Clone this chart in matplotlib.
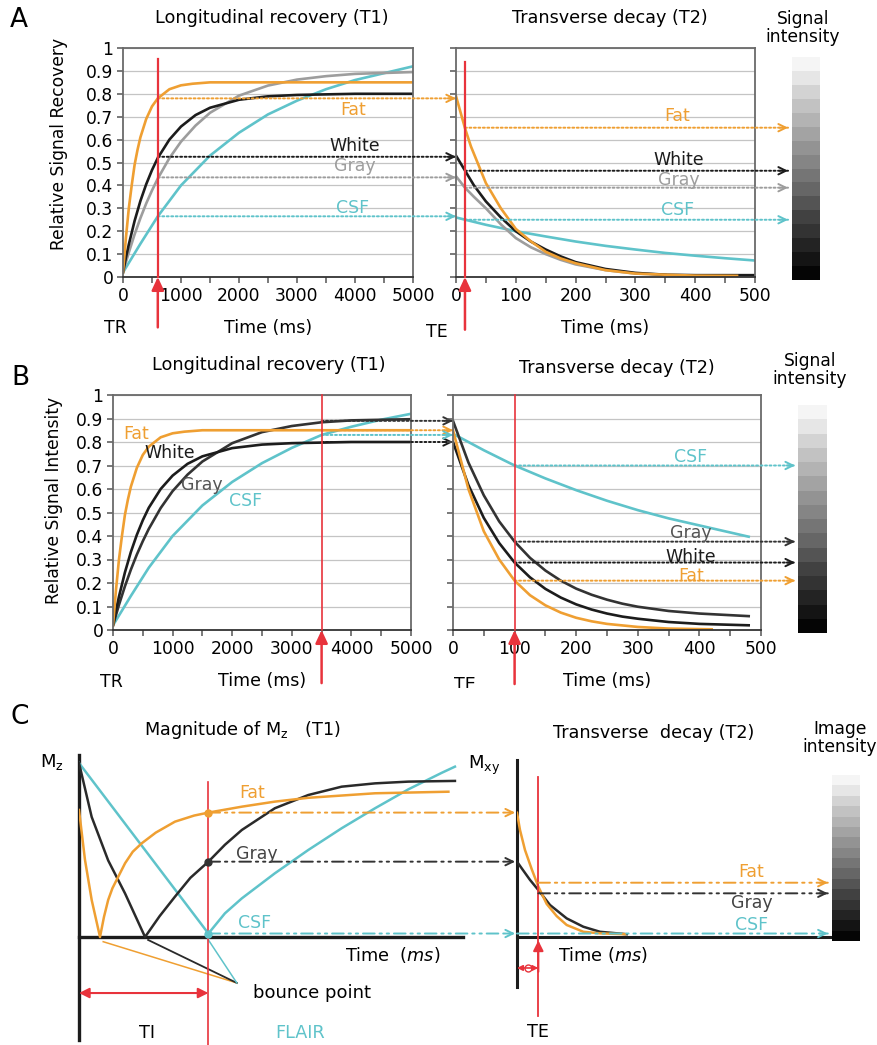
import numpy as np
import matplotlib
matplotlib.use("Agg")
import matplotlib.pyplot as plt
from matplotlib.transforms import blended_transform_factory, Bbox, TransformedBbox

plt.rcParams['font.family'] = ['DejaVu Sans']
plt.rcParams['mathtext.fontset'] = 'dejavusans'

#%% data
# panel A, T1 recovery (ms, relative signal)
a_tr = 600
a_t1_fat_t = [0, 50, 100, 150, 200, 250, 300, 400, 500, 600, 700, 800, 1000, 1200, 1500, 2000, 3000, 5000]
a_t1_fat = [0.02, 0.17, 0.30, 0.40, 0.49, 0.555, 0.61, 0.69, 0.745, 0.78, 0.80, 0.82, 0.837, 0.844, 0.85, 0.85, 0.85, 0.85]
a_t1_white_t = [0, 50, 100, 200, 300, 400, 500, 600, 800, 1000, 1250, 1500, 2000, 2500, 3000, 4000, 5000]
a_t1_white = [0.02, 0.084, 0.142, 0.245, 0.332, 0.405, 0.467, 0.52, 0.60, 0.657, 0.707, 0.739, 0.774, 0.789, 0.795, 0.80, 0.80]
a_t1_gray_t = [0, 100, 200, 300, 400, 500, 600, 800, 1000, 1250, 1500, 2000, 2500, 3000, 3500, 4000, 5000]
a_t1_gray = [0.02, 0.107, 0.186, 0.257, 0.321, 0.378, 0.43, 0.519, 0.591, 0.661, 0.717, 0.792, 0.836, 0.862, 0.877, 0.887, 0.895]
a_t1_csf_t = [0, 300, 600, 1000, 1500, 2000, 2500, 3000, 3500, 4000, 4500, 5000]
a_t1_csf = [0.02, 0.145, 0.265, 0.40, 0.53, 0.63, 0.71, 0.77, 0.82, 0.86, 0.89, 0.92]
a_tr_levels = [0.78, 0.525, 0.435, 0.265]          # fat, white, gray, csf

# panel A, T2 decay
a_te = 15
a_t2_fat_t = [0, 15, 25, 50, 75, 100, 125, 150, 175, 200, 250, 300, 350, 400, 470]
a_t2_fat = [0.79, 0.65, 0.57, 0.41, 0.30, 0.21, 0.156, 0.11, 0.081, 0.06, 0.03, 0.015, 0.01, 0.006, 0.005]
a_t2_white_t = [0, 15, 30, 50, 75, 100, 125, 150, 175, 200, 250, 300, 350, 400, 500]
a_t2_white = [0.53, 0.465, 0.40, 0.33, 0.26, 0.20, 0.155, 0.12, 0.09, 0.065, 0.035, 0.018, 0.01, 0.008, 0.008]
a_t2_gray_t = [0, 15, 30, 50, 75, 100, 125, 150, 175, 200, 250, 300, 350]
a_t2_gray = [0.44, 0.39, 0.35, 0.30, 0.23, 0.17, 0.13, 0.10, 0.075, 0.055, 0.03, 0.015, 0.01]
a_t2_csf_t = [0, 50, 100, 150, 200, 250, 300, 350, 400, 450, 500]
a_t2_csf = [0.26, 0.228, 0.20, 0.177, 0.155, 0.136, 0.12, 0.105, 0.093, 0.082, 0.072]
a_te_levels = [0.652, 0.464, 0.39, 0.25]

# panel B, T1 recovery
b_tr = 3500
b_t1_fat_t = [0, 50, 100, 150, 200, 250, 300, 400, 500, 600, 700, 800, 1000, 1200, 1500, 2000, 3000, 5000]
b_t1_fat = [0.02, 0.17, 0.30, 0.40, 0.49, 0.555, 0.61, 0.69, 0.745, 0.78, 0.80, 0.82, 0.837, 0.844, 0.85, 0.85, 0.85, 0.85]
b_t1_white_t = [0, 50, 100, 200, 300, 400, 500, 600, 800, 1000, 1250, 1500, 2000, 2500, 3000, 4000, 5000]
b_t1_white = [0.02, 0.084, 0.142, 0.245, 0.332, 0.405, 0.467, 0.52, 0.60, 0.657, 0.707, 0.739, 0.774, 0.789, 0.795, 0.80, 0.80]
b_t1_gray_t = [0, 100, 200, 300, 400, 500, 600, 800, 1000, 1250, 1500, 2000, 2500, 3000, 3500, 4000, 5000]
b_t1_gray = [0.02, 0.107, 0.186, 0.257, 0.321, 0.378, 0.43, 0.519, 0.591, 0.661, 0.717, 0.795, 0.842, 0.868, 0.884, 0.892, 0.897]
b_t1_csf_t = [0, 300, 600, 1000, 1500, 2000, 2500, 3000, 3500, 4000, 4500, 5000]
b_t1_csf = [0.02, 0.145, 0.265, 0.40, 0.53, 0.63, 0.71, 0.775, 0.83, 0.865, 0.895, 0.92]
b_tr_levels = [0.85, 0.80, 0.89, 0.83]           # fat, white, gray, csf

# panel B, T2 decay
b_te = 100
b_t2_fat_t = [0, 25, 50, 75, 100, 125, 150, 175, 200, 225, 250, 300, 350, 420]
b_t2_fat = [0.85, 0.60, 0.42, 0.30, 0.21, 0.148, 0.105, 0.074, 0.052, 0.037, 0.026, 0.013, 0.006, 0.003]
b_t2_wg_t = [0, 25, 50, 75, 100, 125, 150, 175, 200, 225, 250, 275, 300, 350, 400, 480]
b_t2_white = [0.80, 0.617, 0.477, 0.37, 0.287, 0.224, 0.175, 0.138, 0.109, 0.087, 0.07, 0.057, 0.048, 0.034, 0.026, 0.020]
b_t2_gray = [0.89, 0.713, 0.573, 0.462, 0.376, 0.307, 0.253, 0.21, 0.176, 0.15, 0.129, 0.112, 0.099, 0.081, 0.07, 0.059]
b_t2_csf_t = [0, 50, 100, 150, 200, 250, 300, 350, 400, 450, 480]
b_t2_csf = [0.835, 0.765, 0.70, 0.645, 0.595, 0.55, 0.51, 0.475, 0.445, 0.415, 0.397]
b_te_levels = [0.21, 0.287, 0.376, 0.70]

# panel C, schematic inversion recovery (arbitrary time units)
c_ti = 3.37
c_mz_fat_t = [0, 0.156, 0.33, 0.547, 0.65, 0.76, 0.87, 0.98, 1.2, 1.4, 1.63, 2.0, 2.5, 3.0, 3.37, 4.24, 5.1, 5.97, 7.71, 9.62]
c_mz_fat = [0.73, 0.443, 0.213, 0.0, 0.115, 0.213, 0.28, 0.328, 0.424, 0.49, 0.538, 0.60, 0.663, 0.698, 0.715, 0.749, 0.778, 0.80, 0.826, 0.835]
c_mz_gray_t = [0, 0.33, 0.76, 1.2, 1.72, 2.1, 2.5, 2.9, 3.37, 3.8, 4.24, 5.1, 5.97, 6.84, 7.71, 8.58, 9.79]
c_mz_gray = [1.0, 0.69, 0.44, 0.25, 0.0, 0.12, 0.232, 0.34, 0.433, 0.53, 0.615, 0.74, 0.816, 0.864, 0.883, 0.893, 0.897]
c_mz_csf_t = [0, 3.37, 3.80, 4.24, 5.10, 5.97, 6.84, 7.71, 8.58, 9.45, 9.79]
c_mz_csf = [1.0, 0.02, 0.136, 0.222, 0.366, 0.50, 0.625, 0.74, 0.849, 0.944, 0.979]
c_ti_levels = [0.715, 0.433, 0.02]               # fat, gray, csf
c_bounce = [(0.63, -0.027), (1.8, -0.017), (3.37, -0.017)]

c_te = 0.555
c_mxy_fat_t = [0, 0.078, 0.208, 0.383, 0.555, 0.773, 1.034, 1.294, 1.727, 2.161, 2.813]
c_mxy_fat = [0.714, 0.615, 0.50, 0.39, 0.29, 0.19, 0.12, 0.069, 0.030, 0.021, 0.016]
c_mxy_gray_t = [0, 0.122, 0.339, 0.555, 0.859, 1.294, 1.727, 2.161, 2.857]
c_mxy_gray = [0.433, 0.395, 0.328, 0.27, 0.184, 0.107, 0.059, 0.030, 0.016]
c_te_levels = [0.312, 0.251, 0.02]

gray_steps = [0.02, 0.08, 0.14, 0.20, 0.26, 0.33, 0.40, 0.46, 0.52, 0.58, 0.64, 0.70, 0.76, 0.83, 0.90, 0.96]
y_tick_labels = ['0', '0.1', '0.2', '0.3', '0.4', '0.5', '0.6', '0.7', '0.8', '0.9', '1']

ORANGE = '#ef9f32'
CYAN = '#5fc3ca'
BLACK = '#1c1c1c'
LGRAY = '#9d9d9d'
DGRAY = '#333333'
RED = '#e8333c'

#%% figure helpers
W, H = 877, 1045
fig = plt.figure(figsize=(W / 100, H / 100), dpi=100, facecolor='white')

def px_axes(x0, y0, x1, y1):
    return fig.add_axes([x0 / W, 1 - y1 / H, (x1 - x0) / W, (y1 - y0) / H])

def fig_text(x, y, s, **kw):
    kw.setdefault('ha', 'center')
    kw.setdefault('va', 'center')
    return fig.text(x / W, 1 - y / H, s, **kw)

def style_curve_axes(ax, xmax, major, minor, show_ylabels):
    ax.set_xlim(0, xmax)
    ax.set_ylim(0, 1)
    ax.set_xticks(np.arange(0, xmax + 1, major))
    ax.set_xticks(np.arange(0, xmax + 1, minor), minor=True)
    ax.set_yticks(np.round(np.arange(0, 1.01, 0.1), 1))
    ax.set_yticklabels(y_tick_labels if show_ylabels else [])
    ax.grid(axis='y', color='#c4c4c4', lw=0.9)
    ax.set_axisbelow(True)
    ax.tick_params(which='both', direction='out', length=4, width=1.1, color='#555555',
                   labelsize=12.3, pad=3)
    for s in ax.spines.values():
        s.set_color('#6a6a6a')
        s.set_linewidth(1.3)
    ax.spines['bottom'].set_color('#333333')
    ax.set_xlabel('Time (ms)', fontsize=12.5, labelpad=10)

def red_marker(ax, x, top, bottom):
    ax.plot([x, x], [top, 0], color=RED, lw=1.6, clip_on=False, zorder=4)
    ax.annotate('', xy=(x, 0), xytext=(x, bottom), annotation_clip=False,
                arrowprops=dict(arrowstyle='-|>,head_length=0.6,head_width=0.28', color=RED,
                                lw=1.8, shrinkA=0, shrinkB=0, mutation_scale=13))

def guide(ax, x0, src, x1, dst, y, color, ls, lw=1.4, head=True):
    ax.annotate('', xy=(x1, y), xycoords=dst, xytext=(x0, y), textcoords=src, annotation_clip=False,
                arrowprops=dict(arrowstyle='-', color=color, lw=lw, ls=ls, shrinkA=0, shrinkB=0))
    if head:
        ax.annotate('', xy=(x1, y), xycoords=dst, xytext=(-6, 0), textcoords='offset points',
                    annotation_clip=False,
                    arrowprops=dict(arrowstyle='->,head_length=0.45,head_width=0.22', color=color,
                                    lw=lw, shrinkA=0, shrinkB=0, mutation_scale=12))

def gray_bar(ax):
    ax.imshow(np.array(gray_steps)[:, None], cmap='gray', vmin=0, vmax=1, origin='lower',
              aspect='auto', interpolation='nearest')
    ax.axis('off')

DOT = (0, (1, 1.3))
DASHDOT = (0, (6, 2.5, 1.2, 2.5, 1.2, 2.5))
lw_c = 1.9

#%% panel A
axa1 = px_axes(123, 48, 413, 277)
axa2 = px_axes(456, 48, 755, 277)
bara = px_axes(792, 57, 820, 280)
style_curve_axes(axa1, 5000, 1000, 500, True)
style_curve_axes(axa2, 500, 100, 50, False)
axa1.set_ylabel('Relative Signal Recovery', fontsize=12.3)
axa1.yaxis.set_label_coords(-0.19, 0.58)
gray_bar(bara)

axa1.plot(a_t1_csf_t, a_t1_csf, color=CYAN, lw=lw_c)
axa1.plot(a_t1_gray_t, a_t1_gray, color=LGRAY, lw=lw_c)
axa1.plot(a_t1_white_t, a_t1_white, color=BLACK, lw=lw_c)
axa1.plot(a_t1_fat_t, a_t1_fat, color=ORANGE, lw=lw_c)
axa2.plot(a_t2_csf_t, a_t2_csf, color=CYAN, lw=lw_c)
axa2.plot(a_t2_gray_t, a_t2_gray, color=LGRAY, lw=lw_c)
axa2.plot(a_t2_white_t, a_t2_white, color=BLACK, lw=lw_c)
axa2.plot(a_t2_fat_t, a_t2_fat, color=ORANGE, lw=lw_c)
red_marker(axa1, a_tr, 0.95, -0.22)
red_marker(axa2, a_te, 0.94, -0.23)

a_colors = [ORANGE, BLACK, LGRAY, CYAN]
bar_tr_a = blended_transform_factory(bara.transAxes, axa2.transData)
for v, c in zip(a_tr_levels, a_colors):
    guide(axa1, a_tr, axa1.transData, 0, axa2.transData, v, c, DOT)
for v, c in zip(a_te_levels, a_colors):
    guide(axa2, a_te, axa2.transData, -0.14, bar_tr_a, v, c, DOT)

for ax, pos in [(axa1, [(3966, 0.73), (3995, 0.57), (3995, 0.485), (3966, 0.30)]),
                (axa2, [(369, 0.703), (373, 0.51), (373, 0.425), (371, 0.293)])]:
    for (x, y), s, c in zip(pos, ['Fat', 'White', 'Gray', 'CSF'], a_colors):
        ax.text(x, y, s, color=c, fontsize=12.5, ha='center', va='center')

fig_text(19, 20, 'A', fontsize=19)
fig_text(272, 18, 'Longitudinal recovery (T1)', fontsize=12.7)
fig_text(610, 18, 'Transverse decay (T2)', fontsize=12.7)
fig_text(803, 28, 'Signal\nintensity', fontsize=12.3, linespacing=0.95)
fig_text(115, 328, 'TR', fontsize=12.5)
fig_text(437, 332, 'TE', fontsize=12.5)

#%% panel B
axb1 = px_axes(113, 395, 411, 630)
axb2 = px_axes(453, 395, 761, 630)
barb = px_axes(798, 405, 827, 633)
style_curve_axes(axb1, 5000, 1000, 500, True)
style_curve_axes(axb2, 500, 100, 50, False)
axb1.set_ylabel('Relative Signal Intensity', fontsize=12.3)
axb1.yaxis.set_label_coords(-0.168, 0.553)
gray_bar(barb)

axb1.plot(b_t1_csf_t, b_t1_csf, color=CYAN, lw=lw_c)
axb1.plot(b_t1_gray_t, b_t1_gray, color=DGRAY, lw=lw_c)
axb1.plot(b_t1_white_t, b_t1_white, color=BLACK, lw=lw_c)
axb1.plot(b_t1_fat_t, b_t1_fat, color=ORANGE, lw=lw_c)
axb2.plot(b_t2_csf_t, b_t2_csf, color=CYAN, lw=lw_c)
axb2.plot(b_t2_wg_t, b_t2_gray, color=DGRAY, lw=lw_c)
axb2.plot(b_t2_wg_t, b_t2_white, color=BLACK, lw=lw_c)
axb2.plot(b_t2_fat_t, b_t2_fat, color=ORANGE, lw=lw_c)
red_marker(axb1, b_tr, 1.0, -0.226)
red_marker(axb2, b_te, 1.0, -0.23)
for ln in axb1.lines[-1:] + axb2.lines[-1:]:
    ln.set_linewidth(1.2)

b_colors = [ORANGE, BLACK, DGRAY, CYAN]
bar_tr_b = blended_transform_factory(barb.transAxes, axb2.transData)
for v, c in zip(b_tr_levels, b_colors):
    guide(axb1, b_tr, axb1.transData, 0, axb2.transData, v, c, DOT)
for v, c in zip(b_te_levels, [ORANGE, BLACK, DGRAY, CYAN]):
    guide(axb2, b_te, axb2.transData, -0.1, bar_tr_b, v, c, DOT)

for (x, y), s, c in zip([(392, 0.834), (953, 0.755), (1485, 0.617), (2231, 0.549)],
                        ['Fat', 'White', 'Gray', 'CSF'], [ORANGE, BLACK, '#555555', CYAN]):
    axb1.text(x, y, s, color=c, fontsize=12.5, ha='center', va='center')
for (x, y), s, c in zip([(386, 0.735), (386, 0.411), (386, 0.309), (386, 0.231)],
                        ['CSF', 'Gray', 'White', 'Fat'], [CYAN, '#555555', BLACK, ORANGE]):
    axb2.text(x, y, s, color=c, fontsize=12.5, ha='center', va='center')

fig_text(20, 378, 'B', fontsize=19)
fig_text(269, 365, 'Longitudinal recovery (T1)', fontsize=12.7)
fig_text(617, 368, 'Transverse decay (T2)', fontsize=12.7)
fig_text(810, 370, 'Signal\nintensity', fontsize=12.3, linespacing=0.95)
fig_text(111, 682, 'TR', fontsize=12.5)
te_b = fig_text(465, 685, 'TE', fontsize=12.5)
# the bottom of the right-hand labels is cut off in the original
clip = TransformedBbox(Bbox.from_extents(430 / W, 1 - 688 / H, 1, 1), fig.transFigure)
for t in [te_b, axb2.xaxis.label]:
    t.set_clip_box(clip)
    t.set_clip_on(True)

#%% panel C
C_ZERO, C_UNIT, C_SCALE = 937, 174, 38.4
y_top, y_bot = 1.05, -0.62
axc1 = px_axes(79, C_ZERO - y_top * C_UNIT, 79 + 10 * C_SCALE, C_ZERO - y_bot * C_UNIT)
axc2 = px_axes(517, C_ZERO - y_top * C_UNIT, 517 + 8.2 * C_SCALE, C_ZERO - y_bot * C_UNIT)
barc = px_axes(832, 775, 860, 941)
for ax, xm in [(axc1, 10), (axc2, 8.2)]:
    ax.set_xlim(0, xm)
    ax.set_ylim(y_bot, y_top)
    ax.axis('off')
gray_bar(barc)

# axes of the schematic
axc1.plot([0, 0], [-0.592, 1.046], color=BLACK, lw=2.4, clip_on=False)
axc1.plot([0, 10], [0, 0], color=BLACK, lw=2.4, clip_on=False)
axc2.plot([0, 0], [-0.287, 1.017], color=BLACK, lw=2.2, clip_on=False)
axc2.plot([0, 8.2], [0, 0], color=BLACK, lw=2.2, clip_on=False)

axc1.plot(c_mz_csf_t, c_mz_csf, color=CYAN, lw=1.8)
axc1.plot(c_mz_gray_t, c_mz_gray, color='#2a2a2a', lw=1.8)
axc1.plot(c_mz_fat_t, c_mz_fat, color=ORANGE, lw=1.8)
axc2.plot(c_mxy_gray_t, c_mxy_gray, color='#2a2a2a', lw=1.8)
axc2.plot(c_mxy_fat_t, c_mxy_fat, color=ORANGE, lw=1.8)

# bounce point leader lines
for (bx, by), c, lw in zip(c_bounce, [ORANGE, '#2a2a2a', CYAN], [1.1, 1.3, 1.1]):
    axc1.plot([bx, 4.11], [by, -0.264], color=c, lw=lw, clip_on=False)

# TI line and arrow
axc1.plot([c_ti, c_ti], [0.893, y_bot], color=RED, lw=1.2, clip_on=False)
axc1.annotate('', xy=(c_ti, -0.322), xytext=(0, -0.322),
              arrowprops=dict(arrowstyle='<|-|>,head_length=0.5,head_width=0.25', color=RED, lw=1.5,
                              shrinkA=0, shrinkB=0, mutation_scale=12))
# TE line and arrows
axc2.plot([c_te, c_te], [0.92, -0.454], color=RED, lw=1.3, clip_on=False)
axc2.annotate('', xy=(c_te, -0.02), xytext=(c_te, -0.2),
              arrowprops=dict(arrowstyle='-|>,head_length=0.5,head_width=0.25', color=RED, lw=1.5,
                              shrinkA=0, shrinkB=0, mutation_scale=12))
axc2.annotate('', xy=(c_te, -0.178), xytext=(0, -0.178),
              arrowprops=dict(arrowstyle='<|-|>,head_length=0.4,head_width=0.2', color=RED, lw=1.2,
                              shrinkA=0, shrinkB=0, mutation_scale=8))
axc2.plot([c_te / 2], [-0.178], 'o', ms=5, mfc='none', mec=RED, mew=1)

c_colors = [ORANGE, '#333333', CYAN]
for v, c in zip(c_ti_levels, c_colors):
    axc1.plot([c_ti], [v], 'o', ms=5, color=c, zorder=5)
    guide(axc1, c_ti, axc1.transData, -0.05, axc2.transData, v, c, DASHDOT, lw=1.4)
bar_tr_c = blended_transform_factory(barc.transAxes, axc2.transData)
for v, c, x0 in zip(c_te_levels, c_colors, [c_te, c_te, 0]):
    guide(axc2, x0, axc2.transData, -0.15, bar_tr_c, v, c, DASHDOT, lw=1.4)

for (x, y), s, c in zip([(4.50, 0.826), (4.63, 0.477), (4.58, 0.082)],
                        ['Fat', 'Gray', 'CSF'], [ORANGE, '#444444', CYAN]):
    axc1.text(x, y, s, color=c, fontsize=12.5, ha='center', va='center')
for (x, y), s, c in zip([(6.11, 0.375), (6.11, 0.194), (6.11, 0.069)],
                        ['Fat', 'Gray', 'CSF'], [ORANGE, '#444444', CYAN]):
    axc2.text(x, y, s, color=c, fontsize=12.5, ha='center', va='center')

fig_text(20, 717, 'C', fontsize=19)
fig_text(242, 730, 'Magnitude of M$_\\mathrm{z}$   (T1)', fontsize=12.7)
fig_text(654, 733, 'Transverse  decay (T2)', fontsize=12.7)
fig_text(840, 738, 'Image\nintensity', fontsize=12.3, linespacing=0.95)
fig_text(52, 762, 'M$_\\mathrm{z}$', fontsize=13)
fig_text(484, 765, 'M$_{\\mathrm{xy}}$', fontsize=13)
fig_text(393, 955, 'Time  ($\\mathit{ms}$)', fontsize=12.7)
fig_text(603, 955, 'Time ($\\mathit{ms}$)', fontsize=12.7)
fig_text(312, 993, 'bounce point', fontsize=13)
fig_text(147, 1033, 'TI', fontsize=12.7)
fig_text(300, 1033, 'FLAIR', fontsize=12.7, color=CYAN)
fig_text(538, 1032, 'TE', fontsize=12.7)

fig.savefig('out.png', dpi=100, facecolor='white')
